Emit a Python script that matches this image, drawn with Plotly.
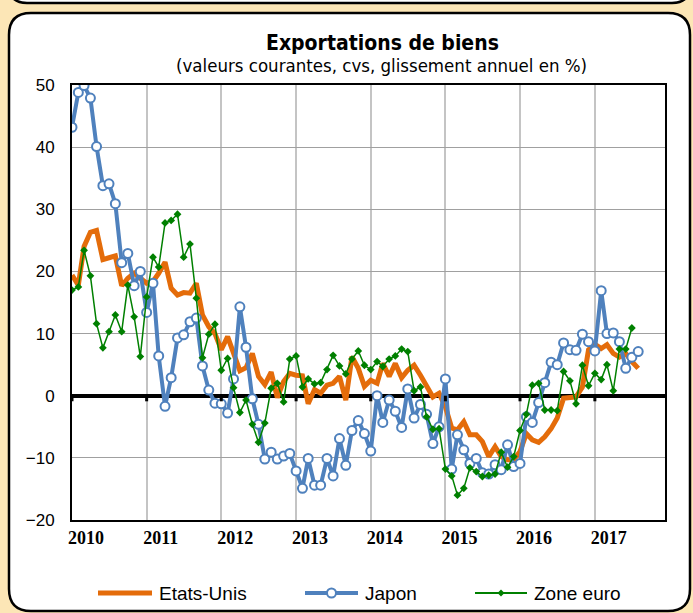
import pandas as pd
import plotly.graph_objects as go

# Monthly year-on-year growth of goods exports, Jan 2010 onwards (%)
etats_unis = [19.4, 17.8, 24.0, 26.3, 26.6, 21.9, 22.2, 22.5, 17.7, 18.9,
              19.7, 18.9, 18.1, 18.4, 19.7, 21.5, 17.3, 16.2, 16.6, 16.5,
              18.1, 13.0, 11.1, 10.0, 7.4, 9.5, 6.8, 4.0, 4.5, 6.8,
              3.1, 1.8, 3.8, -0.3, 2.3, 3.6, 3.3, 3.2, -1.3, 1.0,
              0.4, 1.7, 2.0, 3.1, -0.7, 6.3, 4.4, 1.5, 2.5, 2.0,
              5.2, 3.1, 5.2, 2.9, 4.1, 4.9, 3.3, 1.7, -0.2, 0.4,
              -1.8, -5.2, -5.5, -4.2, -6.3, -6.3, -7.4, -9.8, -8.2, -9.8,
              -10.3, -10.3, -9.0, -6.1, -7.1, -7.5, -6.6, -5.3, -3.6, -0.4,
              -0.2, -0.2, 1.4, 7.4, 8.3, 7.6, 8.2, 6.8, 6.2, 6.8,
              5.5, 4.4]

japon = [43.2, 48.8, 49.9, 47.9, 40.1, 33.8, 34.1, 30.9, 21.4, 22.9,
         17.7, 20.0, 13.4, 18.1, 6.4, -1.7, 2.9, 9.3, 9.8, 11.9,
         12.5, 4.8, 0.9, -1.2, -1.3, -2.8, 2.7, 14.3, 7.8, -0.5,
         -4.6, -10.2, -9.1, -10.2, -9.7, -9.3, -12.1, -14.9, -10.1, -14.4,
         -14.4, -10.1, -12.9, -6.9, -11.2, -5.6, -4.0, -6.1, -8.9, 0.0,
         -4.3, -0.7, -2.5, -5.1, 1.1, -3.6, -1.4, -3.0, -7.7, -5.0,
         2.7, -11.8, -6.3, -8.7, -10.9, -10.1, -12.4, -12.6, -11.1, -11.9,
         -7.9, -11.4, -10.9, -3.4, -4.3, -1.1, 2.1, 5.4, 5.0, 8.5,
         7.4, 7.3, 9.9, 8.7, 7.2, 16.9, 10.0, 10.1, 8.7, 4.4,
         6.2, 7.1]

zone_euro = [17.0, 17.5, 23.4, 19.3, 11.6, 7.7, 10.3, 13.0, 10.3, 17.8,
             12.7, 6.3, 15.9, 22.3, 20.7, 27.8, 28.2, 29.2, 22.3, 24.4,
             15.7, 6.1, 9.9, 11.5, 4.1, 6.0, 1.3, -2.7, -0.7, -4.6,
             -7.5, -4.4, 1.2, 2.0, -1.0, 5.9, 6.4, 1.4, 2.7, 1.9,
             2.1, 4.2, 6.5, 4.8, 3.5, 5.9, 7.2, 4.9, 4.2, 5.5,
             4.7, 5.9, 6.4, 7.5, 7.1, 0.8, 1.4, -3.4, -5.4, -5.3,
             -11.8, -12.9, -16.0, -14.9, -11.6, -12.2, -13.0, -12.8, -12.6, -9.1,
             -11.5, -9.8, -5.6, -3.0, 1.7, 2.0, -2.3, -2.3, -2.4, 3.9,
             2.4, -1.3, 4.9, 1.6, 3.6, 2.6, 5.0, 0.8, 7.5, 7.5,
             10.9]

annees = [2010, 2011, 2012, 2013, 2014, 2015, 2016, 2017]

dates_us = pd.date_range("2010-01-01", periods=len(etats_unis), freq="MS")
dates_jp = pd.date_range("2010-01-01", periods=len(japon), freq="MS")
dates_ze = pd.date_range("2010-01-01", periods=len(zone_euro), freq="MS")
annee_debuts = [f"{a}-01-01" for a in annees]

ORANGE = "#E46C0A"
BLEU = "#4F81BD"
VERT = "#008000"
FOND = "#FCE6B6"

W, H = 693, 613
L, R, T, B = 72, 665, 85, 520   # plot area in pixels


def px(x):
    return (x - L) / (R - L)


def py(y):
    return (B - y) / (B - T)


def rounded_rect(x0, y0, x1, y1, r):
    return (f"M {px(x0 + r)},{py(y0)} L {px(x1 - r)},{py(y0)} "
            f"Q {px(x1)},{py(y0)} {px(x1)},{py(y0 + r)} "
            f"L {px(x1)},{py(y1 - r)} Q {px(x1)},{py(y1)} {px(x1 - r)},{py(y1)} "
            f"L {px(x0 + r)},{py(y1)} Q {px(x0)},{py(y1)} {px(x0)},{py(y1 - r)} "
            f"L {px(x0)},{py(y0 + r)} Q {px(x0)},{py(y0)} {px(x0 + r)},{py(y0)} Z")


fig = go.Figure()

fig.add_trace(go.Scatter(x=dates_us, y=etats_unis, mode="lines", name="Etats-Unis",
                         line=dict(color=ORANGE, width=5)))
fig.add_trace(go.Scatter(x=dates_jp, y=japon, mode="lines+markers", name="Japon",
                         line=dict(color=BLEU, width=4),
                         marker=dict(symbol="circle", size=9, color="white",
                                     line=dict(color=BLEU, width=2))))
fig.add_trace(go.Scatter(x=dates_ze, y=zone_euro, mode="lines+markers", name="Zone euro",
                         line=dict(color=VERT, width=1.5),
                         marker=dict(symbol="diamond", size=6, color=VERT)))

# background panels
fig.add_shape(type="path", xref="paper", yref="paper", layer="below",
              path=rounded_rect(9, -40, 690, 3, 18),
              fillcolor="white", line=dict(color="black", width=2.5))
fig.add_shape(type="path", xref="paper", yref="paper", layer="below",
              path=rounded_rect(9, 13, 690, 611, 22),
              fillcolor="white", line=dict(color="black", width=2.5))

# small year ticks under the zero line
for d in annee_debuts:
    fig.add_shape(type="line", xref="x", yref="y", x0=d, x1=d, y0=0, y1=-0.9,
                  line=dict(color="black", width=3))

# titles
fig.add_annotation(x=px(382), y=py(43), xref="paper", yref="paper", showarrow=False,
                   xanchor="center", yanchor="middle",
                   text="<b>Exportations de biens</b>",
                   font=dict(family="DejaVu Sans Condensed", size=21, color="black"))
fig.add_annotation(x=px(381), y=py(65), xref="paper", yref="paper", showarrow=False,
                   xanchor="center", yanchor="middle",
                   text="(valeurs courantes, cvs, glissement annuel en %)",
                   font=dict(family="DejaVu Sans Condensed", size=18.5, color="black"))

# legend drawn by hand
leg_y = py(593)
items = [("Etats-Unis", ORANGE, 5, 98, 152, None),
         ("Japon", BLEU, 4, 305, 358, "circle"),
         ("Zone euro", VERT, 2, 475, 527, "diamond")]
for name, col, lw, x0, x1, sym in items:
    fig.add_shape(type="line", xref="paper", yref="paper",
                  x0=px(x0), x1=px(x1), y0=leg_y, y1=leg_y,
                  line=dict(color=col, width=lw))
    xm = px((x0 + x1) / 2)
    if sym == "circle":
        fig.add_shape(type="circle", xref="paper", yref="paper",
                      xsizemode="pixel", ysizemode="pixel", xanchor=xm, yanchor=leg_y,
                      x0=-4.5, x1=4.5, y0=-4.5, y1=4.5,
                      fillcolor="white", line=dict(color=col, width=2))
    elif sym == "diamond":
        fig.add_shape(type="path", xref="paper", yref="paper",
                      xsizemode="pixel", ysizemode="pixel", xanchor=xm, yanchor=leg_y,
                      path="M -3.5,0 L 0,3.5 L 3.5,0 L 0,-3.5 Z",
                      fillcolor=col, line=dict(color=col, width=0))
    fig.add_annotation(x=px(x1 + 5), y=leg_y, xref="paper", yref="paper",
                       xanchor="left", yanchor="middle", showarrow=False, text=name,
                       font=dict(family="Liberation Sans", size=19, color="black"))

fig.update_layout(
    width=W, height=H,
    margin=dict(l=L, r=W - R, t=T, b=H - B, pad=0),
    paper_bgcolor=FOND,
    plot_bgcolor="white",
    showlegend=False,
    font=dict(family="Liberation Sans", color="black"),
)

fig.update_xaxes(
    type="date",
    range=["2010-01-01", "2017-12-10"],
    tickvals=annee_debuts,
    ticktext=[f"<b>{a}</b>" for a in annees],
    ticklabelshift=14,
    ticks="",
    tickfont=dict(family="Liberation Serif", size=18, color="black"),
    showgrid=True, gridcolor="#C4C4C4", gridwidth=1.5,
    showline=True, linecolor="black", linewidth=2, mirror=True,
    zeroline=False,
)
fig.update_yaxes(
    range=[-20, 50],
    dtick=10,
    ticks="",
    ticklabelstandoff=12,
    tickfont=dict(family="Liberation Sans", size=17, color="black"),
    showgrid=True, gridcolor="#A0A0A0", gridwidth=1,
    showline=True, linecolor="black", linewidth=2, mirror=True,
    zeroline=True, zerolinecolor="black", zerolinewidth=4,
)

fig.write_html("out.html", config={"displayModeBar": False},
               post_script="document.body.style.margin='0px';")
